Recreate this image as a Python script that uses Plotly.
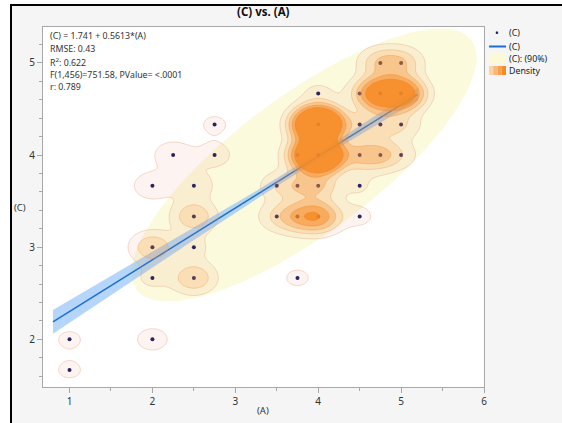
import numpy as np
import plotly.graph_objects as go

# ---------------- data ----------------
# unique (A, C) positions of the observations
A_vals = [1.00, 1.00, 2.00, 2.00, 2.50, 2.00, 2.50, 2.50, 2.00, 2.50, 2.25, 2.75, 2.75,
          3.75, 3.50, 3.75, 4.00, 4.50, 3.50, 3.75, 4.00, 4.50,
          3.75, 4.00, 4.50, 4.75, 5.00,
          4.00, 4.50, 4.75, 5.00,
          4.00, 4.50, 4.75, 5.00,
          4.75, 5.00]
C_vals = [1.667, 2.000, 2.000, 2.667, 2.667, 3.000, 3.000, 3.333, 3.667, 3.667, 4.000, 4.000, 4.333,
          2.667, 3.333, 3.333, 3.333, 3.333, 3.667, 3.667, 3.667, 3.667,
          4.000, 4.000, 4.000, 4.000, 4.000,
          4.333, 4.333, 4.333, 4.333,
          4.667, 4.667, 4.667, 4.667,
          5.000, 5.000]
# relative number of observations at each position (estimated from the density shading)
obs_weight = [1, 1, 1.3, 1, 3.35, 3.35, 1, 3.35, 1.7, 1.7, 1.7, 1.3, 1,
              1, 1.5, 4, 6.8, 1, 1.3, 2.3, 3, 0.8,
              0.5, 30, 3.2, 3.2, 1,
              30, 1.7, 1.7, 1.7,
              1, 0.5, 12, 12,
              3, 3]

# fit statistics shown in the report
intercept = 1.741
slope = 0.5613
rmse = 0.43
n_obs = 458
r_corr = 0.789
mean_A = 3.83
sd_A = 0.97
sd_C = 0.69
fit_A_range = [0.8, 5.2]
stat_lines = ["(C) = 1.741 + 0.5613*(A)", "RMSE: 0.43", "R<sup>2</sup>: 0.622",
              "F(1,456)=751.58, PValue= &lt;.0001", "r: 0.789"]
legend_labels = ["(C)", "(C)", "(C): (90%)", "Density"]

# density contour levels (relative to a single-observation kernel peak)
density_levels = [0.75, 2.0, 3.5, 5.5, 8.0]
band_x, band_y = 0.17, 0.11

# ---------------- geometry helpers ----------------
L, R, T, B = 43, 484, 27, 387
W, H = R - L, B - T
XR = [0.68, 6.0]
YR = [1.483, 5.39]


def px(x):
    return (x - L) / W


def py(y):
    return (B - y) / H


fig = go.Figure()

# 90% density ellipse
mean_C = intercept + slope * mean_A
c = np.sqrt(-2 * np.log(0.1))
t = np.linspace(0, 2 * np.pi, 200)
ex = mean_A + c * sd_A * np.cos(t)
ey = mean_C + c * sd_C * (r_corr * np.cos(t) + np.sqrt(1 - r_corr ** 2) * np.sin(t))
fig.add_trace(go.Scatter(x=ex, y=ey, mode="lines", fill="toself",
                         fillcolor="rgba(249,245,180,0.45)", line=dict(width=0),
                         hoverinfo="skip", showlegend=False))

# regression line with confidence band
xf = np.linspace(fit_A_range[0], fit_A_range[1], 100)
yf = intercept + slope * xf
sxx = (n_obs - 1) * sd_A ** 2
hw = 1.965 * rmse * np.sqrt(1 / n_obs + (xf - mean_A) ** 2 / sxx)
fig.add_trace(go.Scatter(x=np.concatenate([xf, xf[::-1]]),
                         y=np.concatenate([yf + hw, (yf - hw)[::-1]]),
                         mode="lines", fill="toself", fillcolor="rgba(120,180,245,0.55)",
                         line=dict(width=0), hoverinfo="skip", showlegend=False))
fig.add_trace(go.Scatter(x=xf, y=yf, mode="lines", line=dict(color="#1c6fd0", width=1.5),
                         hoverinfo="skip", showlegend=False))

# points
fig.add_trace(go.Scatter(x=A_vals, y=C_vals, mode="markers",
                         marker=dict(size=4, color="#16165e"), showlegend=False))

# kernel density contours (stacked translucent level fills), on an overlay axis pair
# so that they are drawn above the ellipse, fit line and points
gx = np.linspace(XR[0], XR[1], 360)
gy = np.linspace(YR[0], YR[1], 360)
GX, GY = np.meshgrid(gx, gy)
dens = np.zeros_like(GX)
for a, cc, w in zip(A_vals, C_vals, obs_weight):
    dens += w * np.exp(-0.5 * ((GX - a) / band_x) ** 2 - 0.5 * ((GY - cc) / band_y) ** 2)
level_fill = ["rgba(235,150,120,0.11)", "rgba(248,160,70,0.20)", "rgba(247,150,55,0.32)",
              "rgba(247,142,45,0.50)", "rgba(247,136,30,0.72)"]
level_line = ["rgba(225,150,120,0.45)", "rgba(235,150,80,0.45)", "rgba(235,140,60,0.45)",
              "rgba(235,130,50,0.45)", "rgba(235,125,40,0.5)"]
for lev, fc, lc in zip(density_levels, level_fill, level_line):
    # constraint contours shade the excluded side, so '<' shades dens > lev
    fig.add_trace(go.Contour(x=gx, y=gy, z=dens, xaxis="x2", yaxis="y2",
                             contours=dict(type="constraint", operation="<", value=lev),
                             fillcolor=fc, line=dict(color=lc, width=0.8, smoothing=1),
                             showscale=False, hoverinfo="skip"))

# ---------------- frame / background shapes ----------------
shapes = [
    dict(type="rect", xref="paper", yref="paper", x0=px(11), x1=px(562), y0=py(423), y1=py(5),
         fillcolor="#f5f5f5", line=dict(width=0), layer="below"),
    dict(type="rect", xref="paper", yref="paper", x0=0, x1=1, y0=0, y1=1,
         fillcolor="white", line=dict(width=0), layer="below"),
    dict(type="line", xref="paper", yref="paper", x0=px(10), x1=px(562), y0=py(5), y1=py(5),
         line=dict(color="black", width=2)),
    dict(type="line", xref="paper", yref="paper", x0=px(11), x1=px(11), y0=py(5), y1=py(423),
         line=dict(color="black", width=2)),
    # legend symbols
    dict(type="line", xref="paper", yref="paper", x0=px(489), x1=px(506), y0=py(46.5), y1=py(46.5),
         line=dict(color="#1c6fd0", width=2)),
    dict(type="rect", xref="paper", yref="paper", x0=px(489), x1=px(506), y0=py(63), y1=py(54),
         fillcolor="#fbf9d6", line=dict(width=0)),
]
swatch = ["#fbd3a8", "#f9b874", "#f8a050", "#f78b26"]
for i, col in enumerate(swatch):
    shapes.append(dict(type="rect", xref="paper", yref="paper",
                       x0=px(489 + i * 4.25), x1=px(489 + (i + 1) * 4.25),
                       y0=py(75), y1=py(66), fillcolor=col, line=dict(width=0)))

annotations = []
font_main = "Noto Sans"
stat_y = [36, 49, 62, 74.5, 87]
for txt, yy in zip(stat_lines, stat_y):
    annotations.append(dict(text=txt, x=px(48), y=py(yy), xref="paper", yref="paper",
                            xanchor="left", yanchor="middle", showarrow=False,
                            font=dict(family=font_main, size=8.8, color="#333333")))
# legend
annotations.append(dict(text="•", x=px(497.5), y=py(33), xref="paper", yref="paper",
                        xanchor="center", yanchor="middle", showarrow=False,
                        font=dict(family=font_main, size=10, color="#16165e")))
leg_y = [33, 46.5, 58.5, 70.5]
for txt, yy in zip(legend_labels, leg_y):
    annotations.append(dict(text=txt, x=px(507), y=py(yy), xref="paper", yref="paper",
                            xanchor="left", yanchor="middle", showarrow=False,
                            font=dict(family=font_main, size=8.8, color="#222222")))
# title and axis titles
annotations.append(dict(text="<b>(C) vs. (A)</b>", x=px(263), y=py(12), xref="paper", yref="paper",
                        xanchor="center", yanchor="middle", showarrow=False,
                        font=dict(family=font_main, size=11.5, color="#111111")))
annotations.append(dict(text="(A)", x=px(263), y=py(410), xref="paper", yref="paper",
                        xanchor="center", yanchor="middle", showarrow=False,
                        font=dict(family=font_main, size=9.5, color="#333333")))
annotations.append(dict(text="(C)", x=px(20), y=py(207), xref="paper", yref="paper",
                        xanchor="center", yanchor="middle", showarrow=False,
                        font=dict(family=font_main, size=9.5, color="#333333")))

axis_common = dict(showgrid=False, zeroline=False, showline=True, linecolor="#a8a8a8",
                   linewidth=1, mirror=True, ticks="outside", ticklen=5, tickcolor="#a8a8a8",
                   tickfont=dict(family=font_main, size=10, color="#333333"))
fig.update_layout(
    width=562, height=423, margin=dict(l=L, r=562 - R, t=T, b=423 - B),
    paper_bgcolor="white", plot_bgcolor="white", showlegend=False,
    shapes=shapes, annotations=annotations,
    xaxis=dict(range=XR, tickvals=[1, 2, 3, 4, 5, 6],
               minor=dict(dtick=0.5, tick0=0, ticklen=3, tickcolor="#a8a8a8", ticks="outside"),
               **axis_common),
    yaxis=dict(range=YR, tickvals=[2, 3, 4, 5],
               minor=dict(dtick=0.2, tick0=0, ticklen=3, tickcolor="#a8a8a8", ticks="outside"),
               **axis_common),
    xaxis2=dict(range=XR, overlaying="x", anchor="y2", visible=False),
    yaxis2=dict(range=YR, overlaying="y", anchor="x2", visible=False),
)
fig.write_html("out.html", config={"displayModeBar": False},
               post_script="document.body.style.margin='0';document.body.style.overflow='hidden';")
